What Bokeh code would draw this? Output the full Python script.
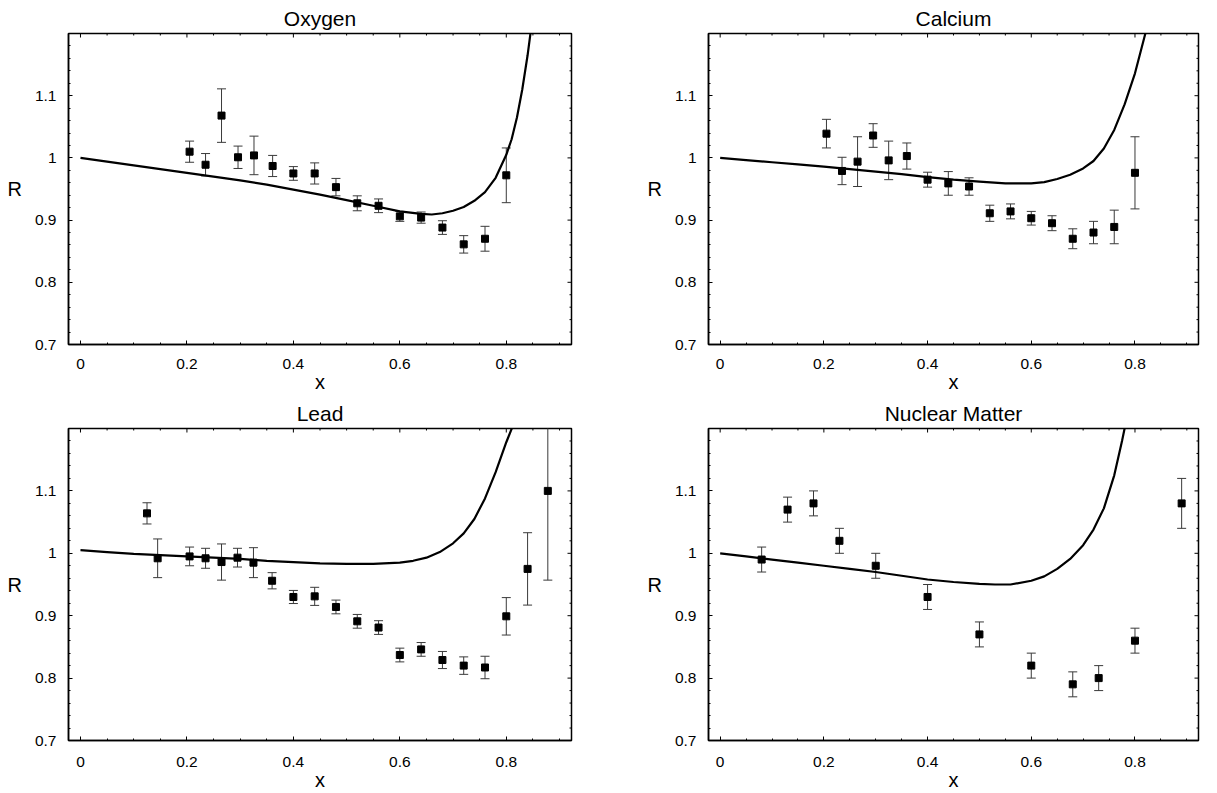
import numpy as np
from bokeh.plotting import figure
from bokeh.models import Range1d, FixedTicker, CustomJSTickFormatter, Spacer
from bokeh.layouts import column, row
from bokeh.embed import file_html
from bokeh.resources import INLINE

# ---------------- data ----------------
titles = ["Oxygen", "Calcium", "Lead", "Nuclear Matter"]

x_ticks = [0, 0.2, 0.4, 0.6, 0.8]
x_minor = [0.05, 0.1, 0.15, 0.25, 0.3, 0.35, 0.45, 0.5, 0.55, 0.65, 0.7, 0.75, 0.85, 0.9]
y_ticks = [0.7, 0.8, 0.9, 1.0, 1.1]
y_minor = [0.72, 0.74, 0.76, 0.78, 0.82, 0.84, 0.86, 0.88, 0.92, 0.94, 0.96, 0.98,
           1.02, 1.04, 1.06, 1.08, 1.12, 1.14, 1.16, 1.18]
x_lo, x_hi = -0.0225, 0.9225
y_lo, y_hi = 0.7, 1.2

oxygen_x = [0.205, 0.235, 0.265, 0.296, 0.326, 0.361, 0.40, 0.44, 0.48, 0.52, 0.56,
            0.60, 0.64, 0.68, 0.72, 0.76, 0.80]
oxygen_r = [1.010, 0.989, 1.068, 1.001, 1.004, 0.987, 0.975, 0.975, 0.953, 0.927, 0.923,
            0.906, 0.904, 0.888, 0.861, 0.870, 0.972]
oxygen_err = [0.017, 0.018, 0.043, 0.018, 0.031, 0.017, 0.011, 0.017, 0.014, 0.012, 0.011,
              0.008, 0.009, 0.011, 0.014, 0.020, 0.044]
oxygen_curve_x = [0.0, 0.05, 0.1, 0.15, 0.2, 0.25, 0.3, 0.35, 0.4, 0.45, 0.5, 0.55, 0.6,
                  0.64, 0.66, 0.68, 0.70, 0.72, 0.74, 0.76, 0.78, 0.80, 0.81, 0.82, 0.83,
                  0.84, 0.85]
oxygen_curve_r = [1.000, 0.994, 0.988, 0.982, 0.976, 0.970, 0.964, 0.957, 0.949, 0.941,
                  0.932, 0.923, 0.914, 0.910, 0.909, 0.911, 0.915, 0.921, 0.931, 0.945,
                  0.968, 1.005, 1.030, 1.065, 1.110, 1.165, 1.230]

calcium_x = [0.205, 0.235, 0.265, 0.295, 0.325, 0.36, 0.40, 0.44, 0.48, 0.52, 0.56,
             0.60, 0.64, 0.68, 0.72, 0.76, 0.80]
calcium_r = [1.039, 0.979, 0.994, 1.036, 0.996, 1.003, 0.965, 0.959, 0.954, 0.911, 0.914,
             0.903, 0.895, 0.870, 0.880, 0.889, 0.976]
calcium_err = [0.023, 0.022, 0.040, 0.019, 0.031, 0.021, 0.012, 0.019, 0.014, 0.013, 0.012,
               0.011, 0.012, 0.016, 0.018, 0.027, 0.058]
calcium_curve_x = [0.0, 0.05, 0.1, 0.15, 0.2, 0.25, 0.3, 0.35, 0.4, 0.45, 0.5, 0.55, 0.6,
                   0.625, 0.65, 0.675, 0.70, 0.72, 0.74, 0.76, 0.78, 0.80, 0.82]
calcium_curve_r = [1.000, 0.9965, 0.993, 0.9895, 0.986, 0.982, 0.978, 0.974, 0.969, 0.965,
                   0.962, 0.959, 0.959, 0.961, 0.966, 0.973, 0.983, 0.995, 1.015, 1.045,
                   1.086, 1.136, 1.200]

lead_x = [0.125, 0.145, 0.205, 0.235, 0.265, 0.295, 0.325, 0.36, 0.40, 0.44, 0.48, 0.52,
          0.56, 0.60, 0.64, 0.68, 0.72, 0.76, 0.80, 0.84, 0.878]
lead_r = [1.064, 0.992, 0.995, 0.992, 0.986, 0.993, 0.985, 0.956, 0.930, 0.931, 0.914, 0.891,
          0.881, 0.837, 0.846, 0.829, 0.820, 0.817, 0.899, 0.975, 1.100]
lead_err = [0.017, 0.031, 0.015, 0.016, 0.029, 0.015, 0.024, 0.013, 0.0105, 0.0145, 0.011,
            0.011, 0.011, 0.011, 0.011, 0.0137, 0.014, 0.018, 0.030, 0.058, 0.143]
lead_curve_x = [0.0, 0.05, 0.1, 0.15, 0.2, 0.25, 0.3, 0.35, 0.4, 0.45, 0.5, 0.55, 0.6,
                0.625, 0.65, 0.675, 0.70, 0.72, 0.74, 0.76, 0.78, 0.80, 0.815]
lead_curve_r = [1.005, 1.002, 0.999, 0.997, 0.995, 0.993, 0.991, 0.988, 0.986, 0.984,
                0.983, 0.983, 0.985, 0.988, 0.993, 1.002, 1.016, 1.032, 1.055, 1.088,
                1.130, 1.178, 1.210]

nuclear_x = [0.08, 0.13, 0.18, 0.23, 0.30, 0.40, 0.50, 0.60, 0.68, 0.73, 0.80, 0.89]
nuclear_r = [0.99, 1.07, 1.08, 1.02, 0.98, 0.93, 0.87, 0.82, 0.79, 0.80, 0.86, 1.08]
nuclear_err = [0.02, 0.02, 0.02, 0.02, 0.02, 0.02, 0.02, 0.02, 0.02, 0.02, 0.02, 0.04]
nuclear_curve_x = [0.0, 0.05, 0.1, 0.15, 0.2, 0.25, 0.3, 0.35, 0.4, 0.45, 0.5, 0.53, 0.56,
                   0.6, 0.625, 0.65, 0.675, 0.70, 0.72, 0.74, 0.76, 0.775, 0.785]
nuclear_curve_r = [1.000, 0.995, 0.990, 0.985, 0.980, 0.975, 0.970, 0.964, 0.958, 0.954,
                   0.951, 0.950, 0.950, 0.956, 0.963, 0.975, 0.991, 1.013, 1.038, 1.072,
                   1.125, 1.180, 1.220]

panels = [
    (oxygen_x, oxygen_r, oxygen_err, oxygen_curve_x, oxygen_curve_r),
    (calcium_x, calcium_r, calcium_err, calcium_curve_x, calcium_curve_r),
    (lead_x, lead_r, lead_err, lead_curve_x, lead_curve_r),
    (nuclear_x, nuclear_r, nuclear_err, nuclear_curve_x, nuclear_curve_r),
]

FONT = "Liberation Sans"
fmt_code = "return (Math.round(tick*10)/10).toString();"


def style_axis(ax):
    ax.axis_line_color = "black"
    ax.axis_line_width = 1.5
    ax.major_tick_in = 4
    ax.major_tick_out = 0
    ax.minor_tick_in = 2
    ax.minor_tick_out = 0
    ax.major_tick_line_color = "black"
    ax.minor_tick_line_color = "black"
    ax.major_label_text_font = FONT
    ax.major_label_text_color = "black"
    ax.major_label_text_font_size = "15.5px"
    ax.formatter = CustomJSTickFormatter(code=fmt_code)
    ax.axis_label_text_font = FONT
    ax.axis_label_text_font_size = "20px"
    ax.axis_label_text_font_style = "normal"
    ax.axis_label_text_color = "black"


def make_panel(idx, left, right, top, bottom, fw, fh, tick_standoff, xlabel_standoff):
    xs, rs, es, cx, cr = panels[idx]
    p = figure(frame_width=fw, frame_height=fh,
               x_range=Range1d(x_lo, x_hi), y_range=Range1d(y_lo, y_hi),
               output_backend="svg", toolbar_location=None,
               min_border_left=left, min_border_right=right,
               min_border_top=top, min_border_bottom=bottom,
               background_fill_color="white", border_fill_color="white")
    p.grid.visible = False
    p.outline_line_color = "black"
    p.outline_line_width = 1.5

    p.title.text = titles[idx]
    p.title.align = "center"
    p.title.text_font = FONT
    p.title.text_font_size = "21px"
    p.title.text_font_style = "normal"
    p.title.text_color = "black"
    p.title.standoff = 8

    p.xaxis.ticker = FixedTicker(ticks=x_ticks, minor_ticks=x_minor)
    p.yaxis.ticker = FixedTicker(ticks=y_ticks, minor_ticks=y_minor)
    for ax in p.xaxis:
        style_axis(ax)
        ax.axis_label = "x"
        ax.major_label_standoff = tick_standoff
        ax.axis_label_standoff = xlabel_standoff
    for ax in p.yaxis:
        style_axis(ax)
        ax.axis_label = "R"
        ax.major_label_standoff = 12
        ax.axis_label_standoff = 10
        try:
            ax.axis_label_orientation = "horizontal"
        except AttributeError:
            pass

    # mirrored inward ticks on the top and right edges (half of each dash is clipped by the frame)
    p.scatter(x_ticks, [y_hi] * len(x_ticks), marker="dash", angle=np.pi / 2, size=8,
              line_color="black", line_width=1)
    p.scatter(x_minor, [y_hi] * len(x_minor), marker="dash", angle=np.pi / 2, size=4,
              line_color="black", line_width=1)
    p.scatter([x_hi] * len(y_ticks), y_ticks, marker="dash", size=8,
              line_color="black", line_width=1)
    p.scatter([x_hi] * len(y_minor), y_minor, marker="dash", size=4,
              line_color="black", line_width=1)

    x = np.array(xs)
    r = np.array(rs)
    e = np.array(es)
    p.segment(x0=x, y0=r - e, x1=x, y1=r + e, line_color="#3a3a3a", line_width=1)
    p.scatter(x, r + e, marker="dash", size=9, line_color="#3a3a3a", line_width=1)
    p.scatter(x, r - e, marker="dash", size=9, line_color="#3a3a3a", line_width=1)
    p.line(cx, cr, line_color="black", line_width=2.2)
    p.scatter(x, r, marker="square", size=7, fill_color="black", line_color="black")
    return p


p1 = make_panel(0, 58, 30, 25, 40, 503, 311, 14, -1)
p2 = make_panel(1, 107, 8, 25, 40, 490, 311, 14, -1)
p3 = make_panel(2, 58, 30, 25, 40, 503, 312, 16, -1)
p4 = make_panel(3, 107, 8, 25, 40, 490, 312, 16, -1)

layout = column(row(Spacer(width=4, height=10), p1, p2),
                row(Spacer(width=4, height=10), p3, p4))

open("out.html", "w").write(file_html(layout, INLINE))
